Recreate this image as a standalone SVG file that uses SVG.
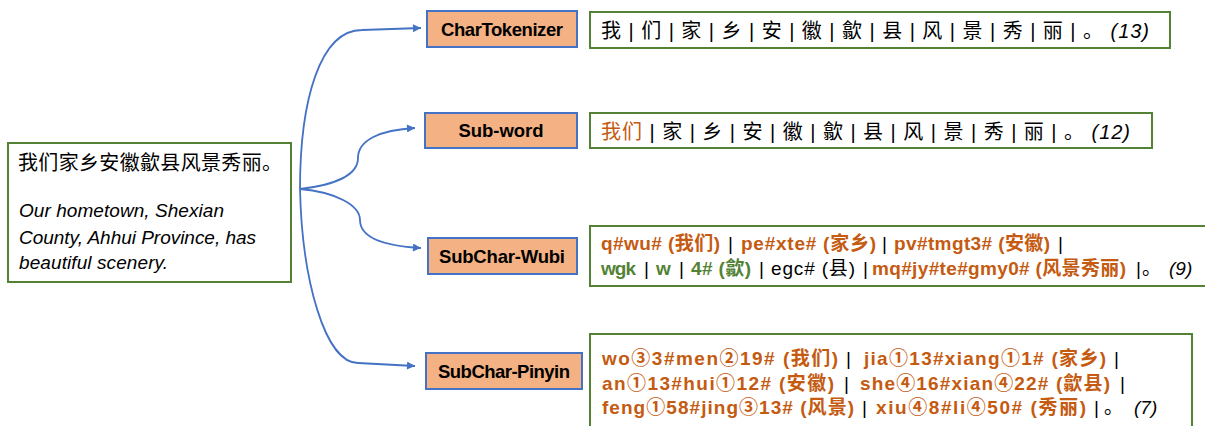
<svg xmlns="http://www.w3.org/2000/svg" width="1205" height="426" viewBox="0 0 1205 426">
<style>
text{font-family:"Liberation Sans","Noto Sans CJK SC",sans-serif;fill:#000}
.gbox{fill:#fff;stroke:#548235;stroke-width:2}
.node{fill:#F4B183;stroke:#4472C4;stroke-width:2}
.lbl{font-weight:bold;font-size:18.5px;text-anchor:middle}
.conn{fill:none;stroke:#4472C4;stroke-width:1.8}
.it{font-style:italic}
.or{fill:#C55A11;font-weight:bold}
.gr{fill:#548235;font-weight:bold}
.t20{font-size:20px}
.t19{font-size:19px}
</style>
<defs>
<marker id="arr" viewBox="0 0 10 10" refX="10" refY="5" markerWidth="9" markerHeight="8" markerUnits="userSpaceOnUse" orient="auto">
<path d="M0,0 L10,5 L0,10 z" fill="#4472C4"/>
</marker>
</defs>

<g id="connectors">
<path class="conn" marker-end="url(#arr)" d="M300,189 C300,100 320,30 362,30 L421,28"/>
<path class="conn" marker-end="url(#arr)" d="M300,189 C335,185 358,175 358,158 C358,140 380,130 415,128"/>
<path class="conn" marker-end="url(#arr)" d="M300,189 C335,192 360,205 360,220 C360,238 385,246 421,248"/>
<path class="conn" marker-end="url(#arr)" d="M300,189 C302,280 325,363 358,363 L415,366"/>
</g>

<g id="input">
<rect class="gbox" x="8" y="143" width="283" height="139"/>
<text class="t20" x="18" y="170" textLength="264" lengthAdjust="spacing">我们家乡安徽歙县风景秀丽。</text>
<text class="it t19" x="19" y="217" textLength="205" lengthAdjust="spacing">Our hometown, Shexian</text>
<text class="it t19" x="19" y="244" textLength="237" lengthAdjust="spacing">County, Ahhui Province, has</text>
<text class="it t19" x="19" y="269" textLength="149" lengthAdjust="spacing">beautiful scenery.</text>
</g>

<g id="chartokenizer">
<rect class="node" x="427" y="11" width="150" height="36"/>
<text class="lbl" x="502" y="36" textLength="122" lengthAdjust="spacing">CharTokenizer</text>
</g>
<g id="subword">
<rect class="node" x="425" y="113" width="152" height="35"/>
<text class="lbl" x="501" y="137" textLength="85" lengthAdjust="spacing">Sub-word</text>
</g>
<g id="subchar-wubi">
<rect class="node" x="428" y="238" width="149" height="36"/>
<text class="lbl" x="502" y="263" textLength="126" lengthAdjust="spacing">SubChar-Wubi</text>
</g>
<g id="subchar-pinyin">
<rect class="node" x="426" y="353" width="156" height="36"/>
<text class="lbl" x="504" y="378" textLength="132" lengthAdjust="spacing">SubChar-Pinyin</text>
</g>

<g id="out-char">
<rect class="gbox" x="590" y="12" width="580" height="36"/>
<text class="t20" x="601" y="38" textLength="548" lengthAdjust="spacing">我 | 们 | 家 | 乡 | 安 | 徽 | 歙 | 县 | 风 | 景 | 秀 | 丽 | 。 <tspan class="it">(13)</tspan></text>
</g>

<g id="out-subword">
<rect class="gbox" x="590" y="113" width="562" height="35"/>
<text class="t20" x="601" y="139" textLength="529" lengthAdjust="spacing"><tspan fill="#C55A11">我们</tspan> | 家 | 乡 | 安 | 徽 | 歙 | 县 | 风 | 景 | 秀 | 丽 | 。 <tspan class="it">(12)</tspan></text>
</g>

<g id="out-wubi">
<rect class="gbox" x="590" y="226" width="625" height="60"/>
<text class="t19" y="250"><tspan class="or" x="601" textLength="119" lengthAdjust="spacing">q#wu# (我们)</tspan><tspan x="728">|</tspan><tspan class="or" x="741" textLength="135" lengthAdjust="spacing">pe#xte# (家乡)</tspan><tspan x="882">|</tspan><tspan class="or" x="894" textLength="156" lengthAdjust="spacing">pv#tmgt3# (安徽)</tspan><tspan x="1058">|</tspan></text>
<text class="t19" y="275"><tspan class="gr" x="601" textLength="35" lengthAdjust="spacing">wgk</tspan><tspan x="644">|</tspan><tspan class="gr" x="656">w</tspan><tspan x="679">|</tspan><tspan class="gr" x="691" textLength="60" lengthAdjust="spacing">4# (歙)</tspan><tspan x="759">|</tspan><tspan x="771" textLength="84" lengthAdjust="spacing">egc# (县)</tspan><tspan x="863">|</tspan><tspan class="or" x="872" textLength="254" lengthAdjust="spacing">mq#jy#te#gmy0# (风景秀丽)</tspan><tspan x="1136">|</tspan><tspan x="1142">。</tspan><tspan class="it" x="1169">(9)</tspan></text>
</g>

<g id="out-pinyin">
<rect class="gbox" x="590" y="334" width="602" height="100"/>
<text class="t19" y="365"><tspan class="or" x="602" textLength="236" lengthAdjust="spacing">wo③3#men②19# (我们)</tspan><tspan x="846">|</tspan><tspan class="or" x="864" textLength="242" lengthAdjust="spacing">jia①13#xiang①1# (家乡)</tspan><tspan x="1114">|</tspan></text>
<text class="t19" y="390"><tspan class="or" x="602" textLength="232" lengthAdjust="spacing">an①13#hui①12# (安徽)</tspan><tspan x="844">|</tspan><tspan class="or" x="860" textLength="250" lengthAdjust="spacing">she④16#xian④22# (歙县)</tspan><tspan x="1120">|</tspan></text>
<text class="t19" y="414"><tspan class="or" x="602" textLength="252" lengthAdjust="spacing">feng①58#jing③13# (风景)</tspan><tspan x="862">|</tspan><tspan class="or" x="876" textLength="210" lengthAdjust="spacing">xiu④8#li④50# (秀丽)</tspan><tspan x="1094">|</tspan><tspan x="1104">。</tspan><tspan class="it" x="1134">(7)</tspan></text>
</g>
</svg>
